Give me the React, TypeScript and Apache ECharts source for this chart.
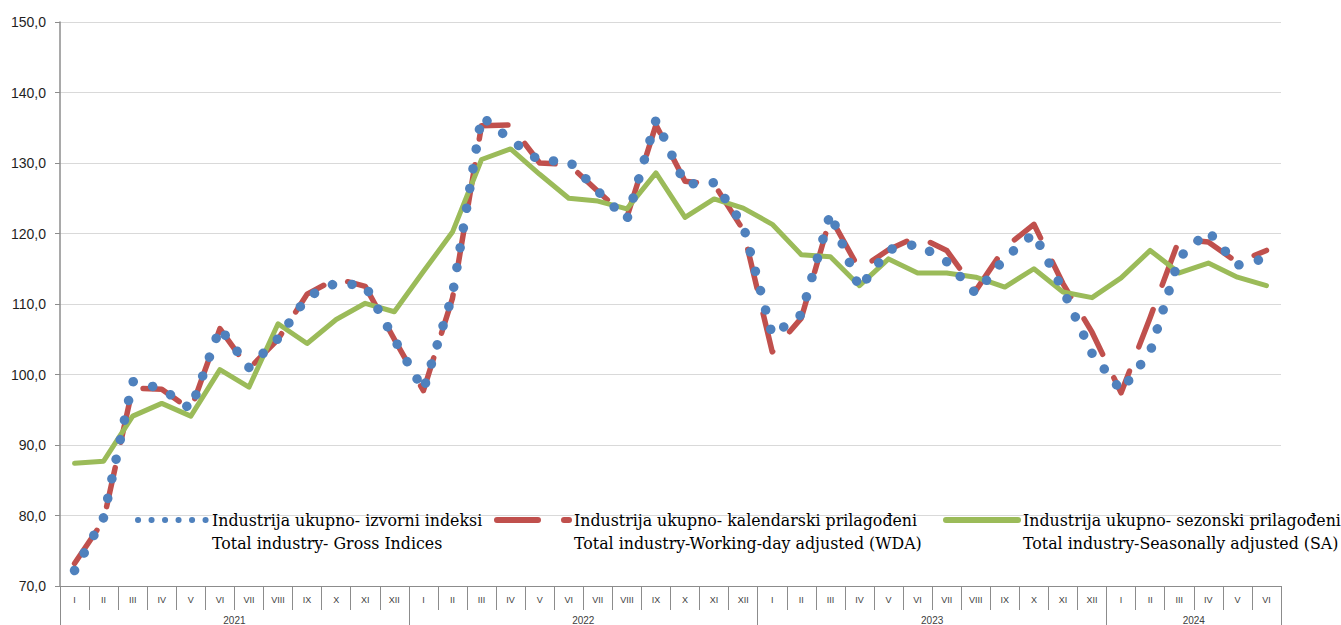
import React, { useEffect, useRef } from 'react';
import * as echarts from 'echarts';

const monthLabels = ['I', 'II', 'III', 'IV', 'V', 'VI', 'VII', 'VIII', 'IX', 'X', 'XI', 'XII'];
const years = ['2021', '2022', '2023', '2024'];
const monthsPerYear = [12, 12, 12, 6];

const grossName = 'Industrija ukupno- izvorni indeksi\nTotal industry- Gross Indices';
const wdaName = 'Industrija ukupno- kalendarski prilagođeni\nTotal industry-Working-day adjusted (WDA)';
const saName = 'Industrija ukupno- sezonski prilagođeni\nTotal industry-Seasonally adjusted (SA)';

const gross = [
  72.2, 79.7, 99.0, 98.0, 95.1, 106.6, 101.0, 105.1, 111.0, 113.0, 112.6, 105.0,
  97.8, 111.3, 136.6, 133.3, 130.3, 130.3, 126.0, 122.0, 136.1, 127.0, 127.2, 121.2,
  105.6, 108.5, 122.9, 112.2, 117.7, 118.5, 116.0, 111.5, 116.5, 120.0, 112.0, 103.0,
  97.7, 103.2, 116.6, 120.3, 115.5, 116.5,
];
const wda = [
  73.2, 79.3, 98.1, 97.9, 95.0, 106.5, 100.8, 105.0, 111.4, 113.6, 112.5, 105.0,
  97.7, 110.8, 135.3, 135.4, 130.0, 129.8, 126.0, 122.3, 135.4, 127.4, 127.0, 120.5,
  103.2, 108.0, 122.3, 114.9, 117.7, 119.6, 117.6, 111.9, 118.0, 121.3, 112.9, 106.0,
  97.4, 108.1, 119.2, 118.8, 115.9, 117.6,
];
const sa = [
  87.4, 87.7, 94.1, 95.9, 94.1, 100.7, 98.2, 107.2, 104.4, 107.8, 110.1, 108.9,
  114.6, 120.2, 130.5, 132.0, 128.4, 125.0, 124.6, 123.5, 128.6, 122.3, 124.9, 123.6,
  121.3, 117.0, 116.7, 112.6, 116.4, 114.4, 114.4, 113.8, 112.4, 115.0, 111.7, 110.9,
  113.7, 117.6, 114.4, 115.8, 113.8, 112.6,
];

export default function App() {
  const ref = useRef<HTMLDivElement>(null);

  useEffect(() => {
    if (!ref.current) return;
    const chart = echarts.init(ref.current, undefined, { renderer: 'svg' });

    const monthCats: string[] = [];
    monthsPerYear.forEach((n) => monthLabels.slice(0, n).forEach((m) => monthCats.push(m)));
    const total = monthCats.length;

    // year axis in half-month slots (boundaryGap false, 2*total+1 points)
    const yearCats: string[] = new Array(total * 2 + 1).fill('');
    const yearTicks: number[] = [0];
    let acc = 0;
    monthsPerYear.forEach((n, i) => {
      yearCats[acc * 2 + n] = years[i];
      acc += n;
      yearTicks.push(acc * 2);
    });

    const axisGray = '#8c8c8c';
    const legendBase = {
      top: 485.5,
      padding: 0,
      itemWidth: 72,
      itemHeight: 14,
      selectedMode: false,
      // leading blank line so that the icon lines up with the first text line
      formatter: (name: string) => '\n' + name,
      textStyle: {
        fontFamily: 'DejaVu Serif',
        fontSize: 15.8,
        lineHeight: 23,
        color: '#000',
      },
    };

    chart.setOption({
      animation: false,
      backgroundColor: '#fff',
      grid: { left: 60, right: 60, top: 22, bottom: 37 },
      legend: [
        {
          ...legendBase,
          left: 132,
          data: [{ name: grossName, itemStyle: { opacity: 0 }, lineStyle: { color: '#4f81bd', width: 6, type: [0.1, 13.4], cap: 'round', dashOffset: -3 } }],
        },
        {
          ...legendBase,
          left: 494,
          data: [{ name: wdaName, itemStyle: { opacity: 0 }, lineStyle: { color: '#c0504d', width: 6, type: [41, 26], cap: 'round' } }],
        },
        {
          ...legendBase,
          left: 943,
          data: [{ name: saName, itemStyle: { opacity: 0 }, lineStyle: { color: '#9bbb59', width: 6, cap: 'round' } }],
        },
      ],
      xAxis: [
        {
          type: 'category',
          data: monthCats,
          boundaryGap: true,
          axisLine: { show: true, lineStyle: { color: axisGray, width: 1 } },
          axisTick: { show: true, interval: 0, length: 24, lineStyle: { color: axisGray } },
          axisLabel: { interval: 0, fontFamily: 'Liberation Sans', fontSize: 9, color: '#404040', margin: 9 },
          splitLine: { show: false },
        },
        {
          type: 'category',
          data: yearCats,
          boundaryGap: false,
          position: 'bottom',
          axisLine: { show: false },
          axisTick: {
            show: true,
            length: 40,
            interval: (i: number) => yearTicks.indexOf(i) >= 0,
            lineStyle: { color: axisGray },
          },
          axisLabel: {
            interval: (_i: number, v: string) => v !== '',
            fontFamily: 'Liberation Sans',
            fontSize: 10,
            color: '#404040',
            margin: 29,
          },
          splitLine: { show: false },
        },
      ],
      yAxis: {
        type: 'value',
        min: 70,
        max: 150,
        interval: 10,
        axisLine: { show: true, lineStyle: { color: axisGray, width: 1.5 } },
        axisTick: { show: true, length: 5, lineStyle: { color: axisGray } },
        axisLabel: {
          formatter: (v: number) => v.toFixed(1).replace('.', ','),
          fontFamily: 'Liberation Sans',
          fontSize: 14,
          color: '#1f1f1f',
          margin: 14,
        },
        splitLine: { show: true, lineStyle: { color: '#d9d9d9', width: 1 } },
      },
      series: [
        {
          name: grossName,
          type: 'line',
          data: gross,
          xAxisIndex: 0,
          symbol: 'none',
          z: 4,
          lineStyle: { color: '#4f81bd', width: 9.5, type: [0.1, 19.9], cap: 'round', join: 'round' },
          itemStyle: { color: '#4f81bd' },
        },
        {
          name: wdaName,
          type: 'line',
          data: wda,
          xAxisIndex: 0,
          symbol: 'none',
          z: 2,
          lineStyle: { color: '#c0504d', width: 5.5, type: [40, 26], cap: 'round', join: 'round' },
          itemStyle: { color: '#c0504d' },
        },
        {
          name: saName,
          type: 'line',
          data: sa,
          xAxisIndex: 0,
          symbol: 'none',
          z: 3,
          lineStyle: { color: '#9bbb59', width: 5, cap: 'round', join: 'round' },
          itemStyle: { color: '#9bbb59' },
        },
      ],
    });

    return () => chart.dispose();
  }, []);

  return (
    <div
      ref={ref}
      style={{ position: 'absolute', left: 0, top: 0, width: 1341, height: 625 }}
    />
  );
}
